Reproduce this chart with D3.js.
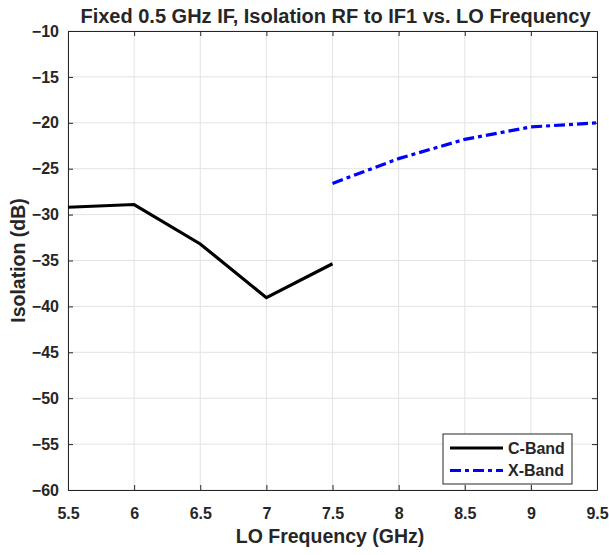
<!DOCTYPE html>
<html><head><meta charset="utf-8">
<script src="https://cdn.jsdelivr.net/npm/d3@7"></script>
<style>body{margin:0;background:#fff}svg{display:block}text{font-family:"Liberation Sans",Arial,sans-serif;font-weight:bold;fill:#262626}</style>
</head><body>
<svg id="c" width="609" height="555"></svg>
<script>
const cFreq = [5.5, 6, 6.5, 7, 7.5];
const cBand = [-29.2, -28.9, -33.2, -39.05, -35.35];
const xFreq = [7.5, 8, 8.5, 9, 9.5];
const xBand = [-26.6, -23.9, -21.8, -20.45, -20.0];
const xTicks = [5.5, 6, 6.5, 7, 7.5, 8, 8.5, 9, 9.5];
const yTicks = [-10, -15, -20, -25, -30, -35, -40, -45, -50, -55, -60];
const seriesNames = ["C-Band", "X-Band"];

const svg = d3.select("#c");
const L = 68, R = 597, T = 31, B = 490;
const x = d3.scaleLinear().domain([5.5, 9.5]).range([L, R]);
const y = d3.scaleLinear().domain([-60, -10]).range([B, T]);
const axc = "#262626";

// grid
svg.append("g").selectAll("line").data(xTicks).join("line")
  .attr("x1", d => x(d)).attr("x2", d => x(d)).attr("y1", T).attr("y2", B)
  .attr("stroke", "#e3e3e3").attr("stroke-width", 1);
svg.append("g").selectAll("line").data(yTicks).join("line")
  .attr("x1", L).attr("x2", R).attr("y1", d => y(d)).attr("y2", d => y(d))
  .attr("stroke", "#e3e3e3").attr("stroke-width", 1);

// axes
const tick = 5;
const ax = svg.append("g").attr("transform", `translate(0,${B})`)
  .call(d3.axisBottom(x).tickValues(xTicks).tickSizeInner(-tick).tickSizeOuter(0).tickPadding(18).tickFormat(d3.format("")));
const ax2 = svg.append("g").attr("transform", `translate(0,${T})`)
  .call(d3.axisTop(x).tickValues(xTicks).tickSizeInner(-tick).tickSizeOuter(0).tickFormat(""));
const ay = svg.append("g").attr("transform", `translate(${L},0)`)
  .call(d3.axisLeft(y).tickValues(yTicks).tickSizeInner(-tick).tickSizeOuter(0).tickPadding(9).tickFormat(d3.format("")));
const ay2 = svg.append("g").attr("transform", `translate(${R},0)`)
  .call(d3.axisRight(y).tickValues(yTicks).tickSizeInner(-tick).tickSizeOuter(0).tickFormat(""));
[ax, ax2, ay, ay2].forEach(g => {
  g.selectAll("path").attr("stroke", axc).attr("stroke-width", 1);
  g.selectAll("line").attr("stroke", axc);
  g.selectAll("text").attr("fill", axc).style("font-size", "16px").style("font-family", '"Liberation Sans",Arial,sans-serif').style("font-weight", "bold");
});

// lines
const line = d3.line().x(d => x(d[0])).y(d => y(d[1]));
svg.append("path").datum(d3.zip(cFreq, cBand)).attr("d", line)
  .attr("fill", "none").attr("stroke", "#000").attr("stroke-width", 3.2).attr("stroke-linejoin", "miter");
svg.append("path").datum(d3.zip(xFreq, xBand)).attr("d", line)
  .attr("fill", "none").attr("stroke", "#0000ff").attr("stroke-width", 3.2)
  .attr("stroke-dasharray", "11,4,4,4");

// labels
svg.append("text").attr("x", (L + R) / 2 + 3).attr("y", 23).attr("text-anchor", "middle")
  .style("font-size", "20px").attr("fill", "#000").text("Fixed 0.5 GHz IF, Isolation RF to IF1 vs. LO Frequency");
svg.append("text").attr("x", 330).attr("y", 543).attr("text-anchor", "middle")
  .style("font-size", "19.5px").text("LO Frequency (GHz)");
svg.append("text").attr("transform", `translate(25,${(T + B) / 2}) rotate(-90)`).attr("text-anchor", "middle")
  .style("font-size", "19.5px").text("Isolation (dB)");

// legend
const lg = svg.append("g");
lg.append("rect").attr("x", 443).attr("y", 434).attr("width", 129).attr("height", 50)
  .attr("fill", "#fff").attr("stroke", axc).attr("stroke-width", 1);
const styles = [{c: "#000", d: null}, {c: "#0000ff", d: "11,4,4,4"}];
seriesNames.forEach((n, i) => {
  const yy = 448 + i * 22.5;
  lg.append("line").attr("x1", 450).attr("x2", 503).attr("y1", yy).attr("y2", yy)
    .attr("stroke", styles[i].c).attr("stroke-width", 3.2).attr("stroke-dasharray", styles[i].d);
  lg.append("text").attr("x", 508).attr("y", yy + 5.5).style("font-size", "16px").attr("fill", "#000").text(n);
});
</script>
</body></html>
